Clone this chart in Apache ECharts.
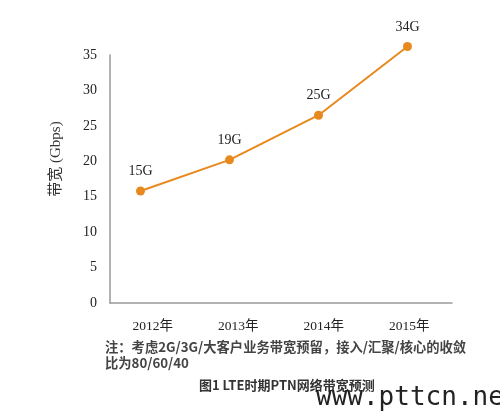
<!DOCTYPE html>
<html><head><meta charset="utf-8">
<script src="https://cdn.jsdelivr.net/npm/echarts@6/dist/echarts.min.js"></script>
<style>html,body{margin:0;padding:0;background:#fff}#c{width:500px;height:412px}</style>
</head><body><div id="c"></div>
<script>
const categories = ['2012年', '2013年', '2014年', '2015年'];
const bandwidth = [15.8, 20.2, 26.5, 36.2];
const pointLabels = ['15G', '19G', '25G', '34G'];
const yTicks = { min: 0, max: 35, interval: 5 };

const chart = echarts.init(document.getElementById('c'), null, { renderer: 'canvas' });
const serif = '"Liberation Serif", "Noto Sans CJK SC", serif';
const sans = '"Noto Sans CJK SC", "Noto Sans", sans-serif';
chart.setOption({
  backgroundColor: '#ffffff',
  animation: false,
  grid: [
    { left: 110, right: 48, top: 55, bottom: 109 },
    { left: 96, right: 48, top: 55, bottom: 109 }
  ],
  xAxis: [
    { type: 'category', gridIndex: 0, data: categories, boundaryGap: true,
      axisLine: { lineStyle: { color: '#999', width: 1.5 } },
      axisTick: { show: false },
      axisLabel: { color: '#222', fontFamily: serif, fontSize: 13.5, margin: 17 } },
    { type: 'category', gridIndex: 1, data: categories, boundaryGap: true, show: false }
  ],
  yAxis: [
    { type: 'value', gridIndex: 0, min: yTicks.min, max: yTicks.max, interval: yTicks.interval,
      name: '带宽 (Gbps)', nameLocation: 'middle', nameGap: 46, nameRotate: 90,
      nameTextStyle: { color: '#333', fontFamily: serif, fontSize: 15, padding: [0, 0, 0, 40] },
      axisLine: { show: true, lineStyle: { color: '#999', width: 1.5 } },
      axisTick: { show: false }, splitLine: { show: false },
      axisLabel: { color: '#222', fontFamily: serif, fontSize: 14, margin: 13 } },
    { type: 'value', gridIndex: 1, min: yTicks.min, max: yTicks.max, interval: yTicks.interval, show: false,
      splitLine: { show: false } }
  ],
  series: [{
    type: 'line', xAxisIndex: 1, yAxisIndex: 1, clip: false,
    data: bandwidth,
    symbol: 'circle', symbolSize: 9,
    lineStyle: { color: '#E8891E', width: 2 },
    itemStyle: { color: '#E8891E' },
    label: { show: true, position: 'top', distance: 8,
      formatter: p => pointLabels[p.dataIndex],
      color: '#222', fontFamily: serif, fontSize: 14 }
  }],
  graphic: [
    { type: 'text', left: 105, top: 340, style: { text: '注：考虑2G/3G/大客户业务带宽预留，接入/汇聚/核心的收敛', fill: '#444', font: 'bold 13.3px ' + sans } },
    { type: 'text', left: 105, top: 356, style: { text: '比为80/60/40', fill: '#444', font: 'bold 13.3px ' + sans } },
    { type: 'text', left: 199, top: 379, style: { text: '图1 LTE时期PTN网络带宽预测', fill: '#333', font: 'bold 13px ' + sans } },
    { type: 'text', left: 316, top: 385, style: { text: 'www.pttcn.net', fill: '#222', font: '26px "DejaVu Sans Mono", monospace' } }
  ]
});
</script></body></html>
